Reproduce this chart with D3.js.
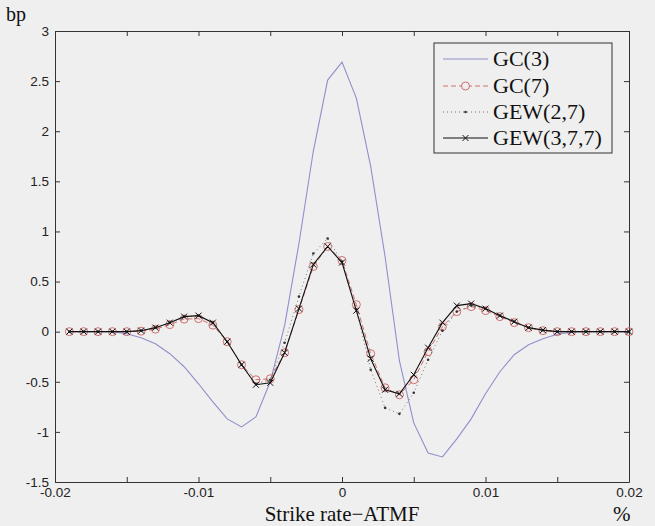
<!DOCTYPE html>
<html>
<head>
<meta charset="utf-8">
<script src="https://cdn.jsdelivr.net/npm/d3@7"></script>
<style>
  html, body { margin: 0; padding: 0; background: #efefef; }
  svg { display: block; }
</style>
</head>
<body>
<script>
// Strike offsets from ATMF (in %), step 0.001
const strikes = d3.range(-19, 21).map(k => k / 1000);

// Approximation errors in basis points for each expansion
const gc3 = [0, 0, 0, 0, -0.02, -0.06, -0.12, -0.22, -0.35, -0.52, -0.70, -0.87, -0.95, -0.85, -0.50, 0.06,
  0.88, 1.80, 2.51, 2.69, 2.33, 1.65, 0.75, -0.29, -0.91, -1.21, -1.25, -1.07, -0.87, -0.62, -0.40, -0.23,
  -0.13, -0.07, -0.025, -0.005, 0, 0, 0, 0];
const gc7 = [0, 0, 0, 0, 0, 0.005, 0.025, 0.07, 0.125, 0.13, 0.065, -0.10, -0.33, -0.48, -0.47, -0.21,
  0.22, 0.65, 0.85, 0.71, 0.27, -0.22, -0.56, -0.63, -0.48, -0.20, 0.05, 0.20, 0.25, 0.21, 0.15, 0.09,
  0.04, 0.01, 0, 0, 0, 0, 0, 0];
const gew27 = [0, 0, 0, 0, 0, 0.01, 0.04, 0.09, 0.15, 0.16, 0.09, -0.10, -0.33, -0.52, -0.48, -0.11,
  0.35, 0.78, 0.93, 0.70, 0.22, -0.38, -0.76, -0.82, -0.61, -0.28, 0.01, 0.20, 0.26, 0.23, 0.16, 0.10,
  0.04, 0.015, 0, 0, 0, 0, 0, 0];
const gew377 = [0, 0, 0, 0, 0, 0.01, 0.04, 0.09, 0.15, 0.16, 0.09, -0.10, -0.33, -0.53, -0.51, -0.21,
  0.23, 0.67, 0.85, 0.69, 0.21, -0.27, -0.58, -0.62, -0.43, -0.16, 0.09, 0.26, 0.28, 0.23, 0.16, 0.10,
  0.04, 0.015, 0, 0, 0, 0, 0, 0];

const xTicks = [-0.02, -0.015, -0.01, -0.005, 0, 0.005, 0.01, 0.015, 0.02];
const xTickLabels = ["-0.02", "", "-0.01", "", "0", "", "0.01", "", "0.02"];
const yTicks = [-1.5, -1, -0.5, 0, 0.5, 1, 1.5, 2, 2.5, 3];
const yTickLabels = ["-1.5", "-1", "-0.5", "0", "0.5", "1", "1.5", "2", "2.5", "3"];
const legendNames = ["GC(3)", "GC(7)", "GEW(2,7)", "GEW(3,7,7)"];

const W = 655, H = 526;
const m = { left: 55, right: 26, top: 31, bottom: 44 };
const iw = W - m.left - m.right, ih = H - m.top - m.bottom;

const svg = d3.select("body").append("svg").attr("width", W).attr("height", H);
svg.append("rect").attr("width", W).attr("height", H).attr("fill", "#efefef");

const x = d3.scaleLinear().domain([-0.02, 0.02]).range([0, iw]);
const y = d3.scaleLinear().domain([-1.5, 3]).range([ih, 0]);

const g = svg.append("g").attr("transform", `translate(${m.left},${m.top})`);

const axisColor = "#333";
const tickFont = "'Liberation Sans', Arial, sans-serif";
const serif = "'Liberation Serif', 'Times New Roman', serif";

// Axes with inward ticks on all four sides
const tl = -5;
const styleAxis = sel => {
  sel.selectAll("path").attr("stroke", axisColor).attr("stroke-width", 1);
  sel.selectAll(".tick line").attr("stroke", axisColor);
  sel.selectAll("text").attr("font-family", tickFont).attr("font-size", 13.5).attr("fill", "#222");
};
g.append("g").attr("transform", `translate(0,${ih})`)
  .call(d3.axisBottom(x).tickValues(xTicks).tickSize(tl).tickSizeOuter(0)
    .tickPadding(5).tickFormat((d, i) => xTickLabels[i]))
  .call(styleAxis);
g.append("g")
  .call(d3.axisTop(x).tickValues(xTicks).tickSize(tl).tickSizeOuter(0).tickFormat(""))
  .call(styleAxis);
g.append("g")
  .call(d3.axisLeft(y).tickValues(yTicks).tickSize(tl).tickSizeOuter(0)
    .tickPadding(6).tickFormat((d, i) => yTickLabels[i]))
  .call(styleAxis);
g.append("g").attr("transform", `translate(${iw},0)`)
  .call(d3.axisRight(y).tickValues(yTicks).tickSize(tl).tickSizeOuter(0).tickFormat(""))
  .call(styleAxis);

const blue = "#8f8fcc", red = "#cf6f6f", black = "#111";

const line = vals => d3.line().x((d, i) => x(strikes[i])).y(d => y(d))(vals);

// GC(3): plain line
g.append("path").attr("d", line(gc3)).attr("fill", "none")
  .attr("stroke", blue).attr("stroke-width", 1.1);

// GC(7): dashed line with open circles
g.append("path").attr("d", line(gc7)).attr("fill", "none")
  .attr("stroke", red).attr("stroke-width", 1).attr("stroke-dasharray", "5,3");
g.append("g").selectAll("circle").data(gc7).join("circle")
  .attr("cx", (d, i) => x(strikes[i])).attr("cy", d => y(d)).attr("r", 4)
  .attr("fill", "none").attr("stroke", red).attr("stroke-width", 1);

// GEW(2,7): dotted line with point markers
g.append("path").attr("d", line(gew27)).attr("fill", "none")
  .attr("stroke", "#555").attr("stroke-width", 0.8).attr("stroke-dasharray", "1,3");
g.append("g").selectAll("circle").data(gew27).join("circle")
  .attr("cx", (d, i) => x(strikes[i])).attr("cy", d => y(d)).attr("r", 1.3)
  .attr("fill", "#333");

// GEW(3,7,7): solid line with x markers
g.append("path").attr("d", line(gew377)).attr("fill", "none")
  .attr("stroke", black).attr("stroke-width", 1.1);
const xm = 3;
g.append("g").selectAll("path").data(gew377).join("path")
  .attr("d", (d, i) => {
    const cx = x(strikes[i]), cy = y(d);
    return `M${cx - xm},${cy - xm}L${cx + xm},${cy + xm}M${cx - xm},${cy + xm}L${cx + xm},${cy - xm}`;
  })
  .attr("stroke", black).attr("stroke-width", 1);

// Legend
const lg = svg.append("g").attr("transform", "translate(434,43)");
lg.append("rect").attr("width", 178).attr("height", 110)
  .attr("fill", "#efefef").attr("stroke", axisColor).attr("stroke-width", 1);
const rowY = [16, 43, 69, 95];
legendNames.forEach((name, i) => {
  const row = lg.append("g").attr("transform", `translate(0,${rowY[i]})`);
  const x0 = 9, x1 = 54, xc = (x0 + x1) / 2;
  if (i === 0) {
    row.append("line").attr("x1", x0).attr("x2", x1).attr("stroke", blue).attr("stroke-width", 1.1);
  } else if (i === 1) {
    row.append("line").attr("x1", x0).attr("x2", x1).attr("stroke", red)
      .attr("stroke-dasharray", "5,3").attr("stroke-width", 1);
    row.append("circle").attr("cx", xc).attr("r", 4).attr("fill", "#efefef").attr("stroke", red);
  } else if (i === 2) {
    row.append("line").attr("x1", x0).attr("x2", x1).attr("stroke", "#555")
      .attr("stroke-dasharray", "1,3").attr("stroke-width", 0.8);
    row.append("circle").attr("cx", xc).attr("r", 1.3).attr("fill", "#333");
  } else {
    row.append("line").attr("x1", x0).attr("x2", x1).attr("stroke", black).attr("stroke-width", 1.1);
    row.append("path").attr("d", `M${xc - xm},${-xm}L${xc + xm},${xm}M${xc - xm},${xm}L${xc + xm},${-xm}`)
      .attr("stroke", black);
  }
  row.append("text").attr("x", 59).attr("y", 7).text(name)
    .attr("font-family", serif).attr("font-size", 22).attr("fill", "#111");
});

// Axis titles
svg.append("text").attr("x", 6).attr("y", 21).text("bp")
  .attr("font-family", serif).attr("font-size", 20).attr("fill", "#111");
svg.append("text").attr("x", m.left + x(0)).attr("y", 521).attr("text-anchor", "middle")
  .text("Strike rate\u2212ATMF")
  .attr("font-family", serif).attr("font-size", 21).attr("fill", "#111");
svg.append("text").attr("x", 613).attr("y", 521).text("%")
  .attr("font-family", serif).attr("font-size", 21).attr("fill", "#111");
</script>
</body>
</html>
